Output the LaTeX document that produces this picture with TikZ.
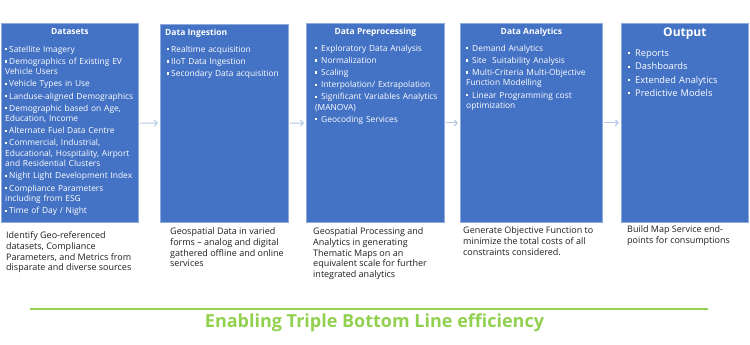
\documentclass[tikz,border=0pt]{standalone}
\usepackage{fontspec}
\setmainfont{Open Sans}
\usetikzlibrary{positioning,arrows.meta,calc}

\definecolor{boxblue}{RGB}{68,114,196}
\definecolor{boxedge}{RGB}{143,170,220}
\definecolor{arrowgray}{RGB}{180,199,231}
\definecolor{tblgreen}{RGB}{146,208,80}
\definecolor{captext}{RGB}{30,30,30}

\newlength{\bulind}
\newcommand{\sqbul}{\rule[0.22em]{2.2pt}{2.2pt}}
\newcommand{\itm}[1]{\par\noindent\hangindent=\bulind\hangafter=1\makebox[\bulind][l]{\sqbul}#1}

\begin{document}
\begin{tikzpicture}[
  x=1pt,y=-1pt,
  font=\fontsize{8.4}{10.5}\selectfont,
  blk/.style={draw=boxedge,line width=0.8pt,fill=boxblue,anchor=north west,inner sep=0pt},
  hd/.style={text=white,font=\fontsize{8.5}{10}\selectfont\bfseries,inner sep=1pt},
  lst/.style 2 args={text=white,align=left,text width=#1,inner sep=0pt,
    execute at begin node={\setlength{\bulind}{#2}\setlength{\parskip}{1.6pt}}},
  captxt/.style={text=captext,align=left,inner sep=0pt,font=\fontsize{9}{10.7}\selectfont},
  ar/.style={-{Straight Barb[length=3pt,width=6pt]},draw=arrowgray,line width=1pt,shorten <=1pt,shorten >=2pt},
  tblline/.style={draw=tblgreen,line width=1.5pt},
  tbltext/.style={text=tblgreen,font=\fontsize{18}{20}\selectfont\bfseries,inner sep=0pt}]
  \useasboundingbox (0,0) rectangle (750,345);
  \node[blk,minimum width=137pt,minimum height=199pt] (ds) at (1,23) {};
  \node[blk,minimum width=128pt,minimum height=198pt] (di) at (160,24) {};
  \node[blk,minimum width=138pt,minimum height=199pt] (dp) at (306,23) {};
  \node[blk,minimum width=142pt,minimum height=199pt] (da) at (460,23) {};
  \node[blk,minimum width=127pt,minimum height=199pt] (out) at (621,23) {};
  \node[hd,below=4pt of ds.north] (dsh) {Datasets};
  \node[hd,below right=4pt and 4pt of di.north west] (dih) {Data Ingestion};
  \node[hd,below=4pt of dp.north] (dph) {Data Preprocessing};
  \node[hd,below=4pt of da.north] (dah) {Data Analytics};
  \node[hd,font=\fontsize{12}{14}\selectfont\bfseries,below=4pt of out.north] (outh) {Output};
  \node[lst={134pt}{4pt},below right=17pt and 4pt of ds.north west] (dsl) {%
    \itm{Satellite Imagery}
    \itm{Demographics of Existing EV\\Vehicle Users}
    \itm{Vehicle Types in Use}
    \itm{Landuse-aligned Demographics}
    \itm{Demographic based on Age,\\Education, Income}
    \itm{Alternate Fuel Data Centre}
    \itm{Commercial, Industrial,\\Educational, Hospitality, Airport\\and Residential Clusters}
    \itm{Night Light Development Index}
    \itm{Compliance Parameters\\including from ESG}
    \itm{Time of Day / Night}};
  \node[lst={118pt}{4pt},below right=16pt and 7pt of di.north west] (dil) {%
    \itm{Realtime acquisition}
    \itm{IIoT Data Ingestion}
    \itm{Secondary Data acquisition}};
  \node[lst={128pt}{6pt},below right=16pt and 9pt of dp.north west] (dpl) {%
    \itm{Exploratory Data Analysis}
    \itm{Normalization}
    \itm{Scaling}
    \itm{Interpolation/ Extrapolation}
    \itm{Significant Variables Analytics\\(MANOVA)}
    \itm{Geocoding Services}};
  \node[lst={134pt}{6pt},below right=16pt and 6pt of da.north west] (dal) {%
    \itm{Demand Analytics}
    \itm{Site\ \ Suitability Analysis}
    \itm{Multi-Criteria Multi-Objective\\Function Modelling}
    \itm{Linear Programming cost\\optimization}};
  \node[lst={116pt}{7pt},font=\fontsize{9.3}{11.7}\selectfont,below right=20pt and 7pt of out.north west] (outl) {%
    \itm{Reports}
    \itm{Dashboards}
    \itm{Extended Analytics}
    \itm{Predictive Models}};
  \node[captxt,below right=9pt and 5pt of ds.south west] (dsc) {Identify Geo-referenced\\datasets, Compliance\\Parameters, and Metrics from\\disparate and diverse sources};
  \node[captxt,below right=5pt and 10pt of di.south west] (dic) {Geospatial Data in varied\\forms – analog and digital\\gathered offline and online\\services};
  \node[captxt,below right=5pt and 7pt of dp.south west] (dpc) {Geospatial Processing and\\Analytics in generating\\Thematic Maps on an\\equivalent scale for further\\integrated analytics};
  \node[captxt,below right=4pt and 3pt of da.south west] (dac) {Generate Objective Function to\\minimize the total costs of all\\constraints considered.};
  \node[captxt,below right=3pt and 6pt of out.south west] (outc) {Build Map Service end-\\points for consumptions};
  \draw[ar] (ds) -- (di);
  \draw[ar] (di) -- (dp);
  \draw[ar] (dp) -- (da);
  \draw[ar] (da) -- (out);
  \coordinate (gl) at (30,309);
  \coordinate (gr) at (708,309);
  \draw[tblline] (gl) -- (gr);
  \node[tbltext] (tbl) at (374.5,323) {Enabling Triple Bottom Line efficiency};
\end{tikzpicture}
\end{document}
